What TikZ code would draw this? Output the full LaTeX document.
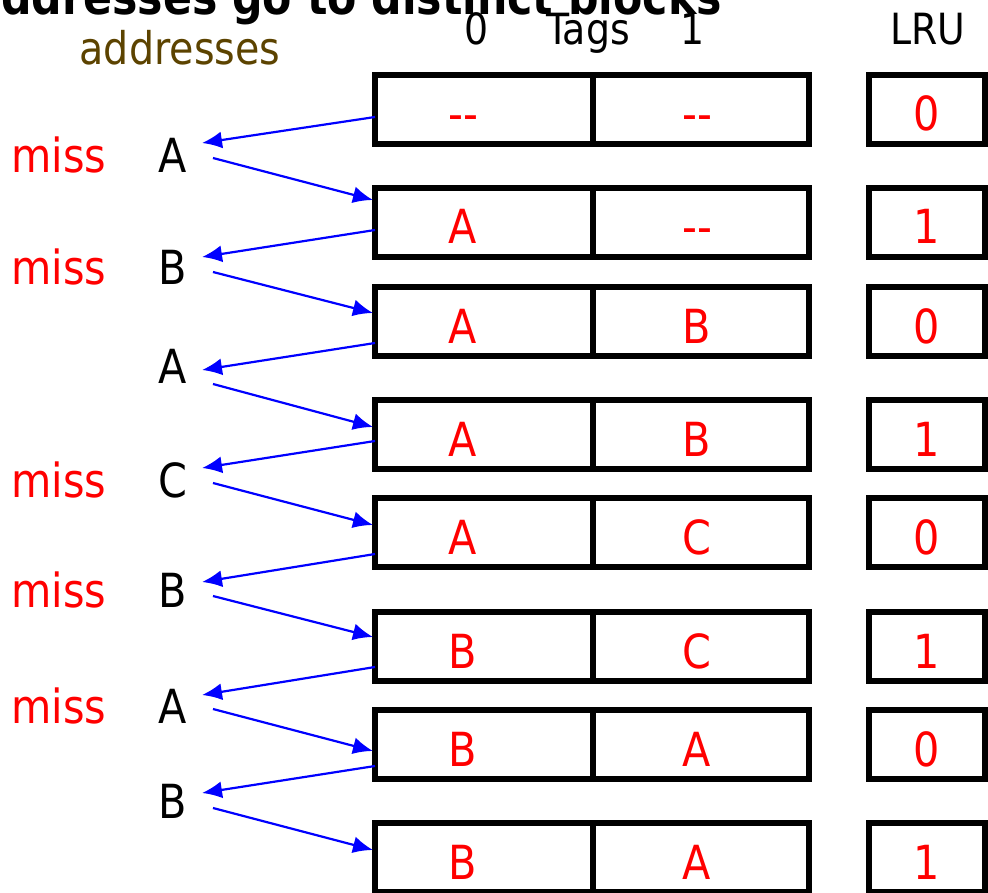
\documentclass[tikz,border=0pt]{standalone}
\usepackage{fontspec}
\setmainfont{DejaVu Sans}[FakeStretch=0.88]
\usetikzlibrary{arrows.meta}
\definecolor{addrbrown}{RGB}{92,67,0}
\definecolor{hitred}{RGB}{255,0,0}
\definecolor{arrblue}{RGB}{0,0,255}
\tikzset{
  cellbox/.style={draw=black, line width=6pt, minimum height=69pt, inner sep=0pt, outer sep=0pt},
  redtxt/.style={text=hitred, anchor=base, inner sep=0pt, font=\fontsize{47}{50}\selectfont},
  blktxt/.style={text=black, anchor=base, inner sep=0pt, font=\fontsize{47}{50}\selectfont},
  headtxt/.style={text=black, anchor=base, inner sep=0pt, font=\fontsize{43}{45}\selectfont},
  arr/.style={draw=arrblue, line width=2.2pt, -{Latex[length=20pt,width=17pt]}}
}
\begin{document}
\begin{tikzpicture}[x=1pt,y=-1pt]
\useasboundingbox (0,0) rectangle (988,893);
\clip (0,0) rectangle (988,893);
% title (cut off at top)
\node[anchor=base east, inner sep=0pt, font=\fontsize{48.5}{50}\selectfont\bfseries] (title) at (722,15) {addresses go to distinct blocks};
% headers
\node[headtxt, text=addrbrown, font=\fontsize{45}{48}\selectfont] (addr) at (180,65) {addresses};
\node[headtxt] (h0) at (477,45) {0};
\node[headtxt] (htags) at (588,45) {Tags};
\node[headtxt] (h1) at (693,45) {1};
\node[headtxt] (hlru) at (928,45) {LRU};
% rows
\foreach \i/\t/\a/\b/\l in {1/72/-{}-/-{}-/0, 2/185/A/-{}-/1, 3/284/A/B/0, 4/397/A/B/1, 5/495/A/C/0, 6/609/B/C/1, 7/707/B/A/0, 8/820/B/A/1}{
  \node[cellbox, minimum width=218pt] (c0r\i) at (484,\t+37.5) {};
  \node[cellbox, minimum width=216pt] (c1r\i) at (701,\t+37.5) {};
  \node[cellbox, minimum width=116pt] (lr\i) at (927,\t+37.5) {};
  \node[redtxt] (t0r\i) at (463,\t+59) {\a};
  \node[redtxt] (t1r\i) at (697,\t+59) {\b};
  \node[redtxt] (tlr\i) at (927,\t+59) {\l};
}
% address letters
\foreach \i/\y/\s in {1/173/A, 2/285/B, 3/383/A, 4/497/C, 5/607/B, 6/723/A, 7/818/B}{
  \node[blktxt] (L\i) at (173,\y) {\s};
}
% miss labels
\foreach \i/\y in {1/173, 2/285, 4/497, 5/607, 6/723}{
  \node[redtxt] (m\i) at (59,\y) {miss};
}
% arrows: box -> letter
\foreach \i/\ys/\yt in {1/117/143, 2/230/257, 3/343/370, 4/441/468, 5/554/582, 6/667/695, 7/766/793}{
  \coordinate (os\i) at (375,\ys);
  \coordinate (ot\i) at (202,\yt);
  \draw[arr] (os\i) -- (ot\i);
}
% arrows: letter -> next box
\foreach \i/\ys/\yt in {1/158/200, 2/272/313, 3/384/427, 4/483/525, 5/596/637, 6/709/751, 7/808/850}{
  \coordinate (is\i) at (213,\ys);
  \coordinate (it\i) at (373,\yt);
  \draw[arr] (is\i) -- (it\i);
}
\end{tikzpicture}
\end{document}
